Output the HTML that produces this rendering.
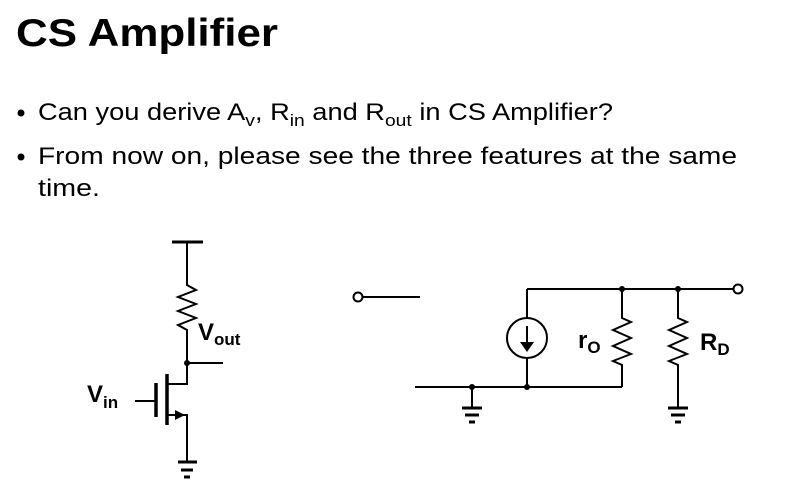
<!DOCTYPE html>
<html><head><meta charset="utf-8"><style>
html,body{margin:0;padding:0;background:#fff;width:790px;height:499px;overflow:hidden}
svg{display:block}
</style></head><body>
<svg width="790" height="499" viewBox="0 0 790 499" xmlns="http://www.w3.org/2000/svg" font-family="Liberation Sans, sans-serif">
<text x="16" y="46" font-size="39" font-weight="bold" textLength="262" lengthAdjust="spacingAndGlyphs">CS Amplifier</text>
<circle cx="21" cy="113" r="3.5" fill="#000"/>
<circle cx="21" cy="157" r="3.5" fill="#000"/>
<text x="38" y="120" font-size="24" textLength="575" lengthAdjust="spacingAndGlyphs">Can you derive A<tspan font-size="17" dy="6">v</tspan><tspan dy="-6">, R</tspan><tspan font-size="17" dy="6">in</tspan><tspan dy="-6"> and R</tspan><tspan font-size="17" dy="6">out</tspan><tspan dy="-6"> in CS Amplifier?</tspan></text>
<text x="38" y="164" font-size="24" textLength="699" lengthAdjust="spacingAndGlyphs">From now on, please see the three features at the same</text>
<text x="38" y="196" font-size="24" textLength="62" lengthAdjust="spacingAndGlyphs">time.</text>
<g stroke="#000" stroke-width="2" fill="none">
<line x1="172" y1="242" x2="203" y2="242" stroke-width="3"/>
<polyline points="187,242 187,285 196,290 178,297 196,304 178,311 196,318 178,325 187,330 187,384 167,384"/>
<line x1="187" y1="363" x2="223" y2="363"/>
<line x1="167" y1="374" x2="167" y2="425" stroke-width="3.5"/>
<line x1="156" y1="383" x2="156" y2="417" stroke-width="3.5"/>
<line x1="135" y1="401" x2="156" y2="401"/>
<polyline points="167,415 187,415 187,462"/>
<line x1="178" y1="462" x2="197" y2="462" stroke-width="3"/>
<line x1="181" y1="470" x2="193" y2="470" stroke-width="3"/>
<line x1="184" y1="477" x2="190" y2="477" stroke-width="3"/>
<circle cx="358" cy="297" r="4.5"/>
<line x1="362" y1="297" x2="420" y2="297"/>
<line x1="527" y1="289" x2="733" y2="289"/>
<circle cx="738" cy="289" r="4.5"/>
<line x1="527" y1="289" x2="527" y2="318"/>
<circle cx="527" cy="338" r="20"/>
<line x1="527" y1="326" x2="527" y2="344"/>
<line x1="527" y1="358" x2="527" y2="387"/>
<line x1="415" y1="387" x2="622" y2="387"/>
<polyline points="622,289 622,318 631,322 613,330 631,338 613,346 631,354 613,361 622,365 622,387"/>
<polyline points="678,289 678,318 687,322 669,330 687,338 669,346 687,354 669,361 678,365 678,408"/>
<line x1="472" y1="387" x2="472" y2="408"/>
<line x1="462" y1="408" x2="482" y2="408" stroke-width="3"/>
<line x1="465" y1="415" x2="479" y2="415" stroke-width="3"/>
<line x1="469" y1="422" x2="475" y2="422" stroke-width="3"/>
<line x1="668" y1="408" x2="688" y2="408" stroke-width="3"/>
<line x1="671" y1="415" x2="685" y2="415" stroke-width="3"/>
<line x1="675" y1="422" x2="681" y2="422" stroke-width="3"/>
</g>
<polygon points="175,410 185,415 175,420" fill="#000"/>
<polygon points="520,342 534,342 527,352" fill="#000"/>
<g fill="#000">
<circle cx="187" cy="363" r="3"/>
<circle cx="622" cy="289" r="3"/>
<circle cx="678" cy="289" r="3"/>
<circle cx="472" cy="387" r="3"/>
<circle cx="527" cy="387" r="3"/>
</g>
<g font-weight="bold" fill="#000">
<text x="198" y="340" font-size="24">V<tspan font-size="17" dy="5">out</tspan></text>
<text x="87" y="402" font-size="24">V<tspan font-size="17" dy="6">in</tspan></text>
<text x="578" y="348" font-size="24">r<tspan font-size="17" dy="5">O</tspan></text>
<text x="700" y="350" font-size="24">R<tspan font-size="17" dy="5">D</tspan></text>
</g>
</svg>
</body></html>
